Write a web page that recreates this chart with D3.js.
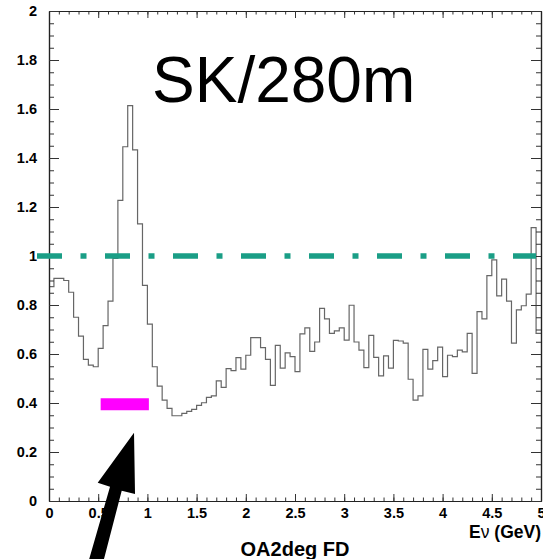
<!DOCTYPE html>
<html>
<head>
<meta charset="utf-8">
<script src="https://cdn.jsdelivr.net/npm/d3@7"></script>
<style>
  html, body { margin: 0; padding: 0; background: #fff; }
  svg { display: block; }
  .tick text { font-family: "Liberation Sans", Arial, Helvetica, sans-serif; font-weight: bold; font-size: 14.5px; fill: #000; }
</style>
</head>
<body>
<svg id="chart" width="543" height="559"></svg>
<script>
// Flux ratio per 50 MeV bin, 0 to 5 GeV
const binWidth = 0.05;
const ratio = [
  0.875, 0.909, 0.909, 0.900, 0.852, 0.750, 0.673, 0.578, 0.555, 0.548,
  0.623, 0.716, 0.816, 0.990, 1.227, 1.446, 1.614, 1.433, 1.131, 0.880,
  0.722, 0.548, 0.469, 0.412, 0.378, 0.348, 0.348, 0.358, 0.366, 0.374,
  0.390, 0.401, 0.423, 0.429, 0.490, 0.464, 0.540, 0.532, 0.585, 0.538,
  0.595, 0.667, 0.667, 0.626, 0.578, 0.472, 0.635, 0.542, 0.605, 0.589,
  0.528, 0.682, 0.707, 0.611, 0.649, 0.786, 0.743, 0.684, 0.694, 0.707,
  0.657, 0.799, 0.649, 0.616, 0.544, 0.676, 0.586, 0.511, 0.592, 0.542,
  0.656, 0.653, 0.644, 0.497, 0.412, 0.429, 0.619, 0.538, 0.573, 0.628,
  0.508, 0.595, 0.589, 0.616, 0.609, 0.684, 0.521, 0.773, 0.743, 0.920,
  0.984, 0.837, 0.906, 0.816, 0.644, 0.780, 0.797, 0.844, 1.116, 0.684
];

// Axis ticks
const xTicks = [0, 0.5, 1, 1.5, 2, 2.5, 3, 3.5, 4, 4.5, 5];
const xTickLabels = ["0", "0.5", "1", "1.5", "2", "2.5", "3", "3.5", "4", "4.5", "5"];
const yTicks = [0, 0.2, 0.4, 0.6, 0.8, 1, 1.2, 1.4, 1.6, 1.8, 2];
const yTickLabels = ["0", "0.2", "0.4", "0.6", "0.8", "1", "1.2", "1.4", "1.6", "1.8", "2"];

// Reference level and the highlighted energy band
const unityLevel = 1;
const bandRange = [0.525, 1.015];
const bandLevel = 0.395;
const arrowTip = [0.864, 0.279];

const svg = d3.select("#chart");
const plotLeft = 49, plotRight = 541, plotTop = 11, plotBottom = 501;
const x = d3.scaleLinear().domain([0, 5]).range([plotLeft, plotRight]);
const y = d3.scaleLinear().domain([0, 2]).range([plotBottom, plotTop]);

// Histogram outline (step)
const pts = ratio.map((v, i) => [i * binWidth, v]);
pts.push([ratio.length * binWidth, ratio[ratio.length - 1]]);
svg.append("path")
  .attr("d", d3.line().x(d => x(d[0])).y(d => y(d[1])).curve(d3.curveStepAfter)(pts))
  .attr("fill", "none")
  .attr("stroke", "#666")
  .attr("stroke-width", 1.2);

// Axes with inward ticks on all four sides
const xMinor = d3.range(0, 5.0001, 0.1).map(v => +v.toFixed(2));
const yMinor = d3.range(0, 2.0001, 0.05).map(v => +v.toFixed(2));

function frameAxis(g, axis) {
  g.call(axis);
  g.selectAll("path.domain").attr("stroke", "#222").attr("stroke-width", 1.2);
  g.selectAll(".tick line").attr("stroke", "#333").attr("stroke-width", 1);
}

// minor ticks
frameAxis(svg.append("g").attr("transform", `translate(0,${plotBottom})`),
  d3.axisBottom(x).tickValues(xMinor).tickSizeInner(-3.5).tickSizeOuter(0).tickFormat(""));
frameAxis(svg.append("g").attr("transform", `translate(0,${plotTop})`),
  d3.axisTop(x).tickValues(xMinor).tickSizeInner(-3.5).tickSizeOuter(0).tickFormat(""));
frameAxis(svg.append("g").attr("transform", `translate(${plotLeft},0)`),
  d3.axisLeft(y).tickValues(yMinor).tickSizeInner(-5).tickSizeOuter(0).tickFormat(""));
frameAxis(svg.append("g").attr("transform", `translate(${plotRight},0)`),
  d3.axisRight(y).tickValues(yMinor).tickSizeInner(-5).tickSizeOuter(0).tickFormat(""));

// major ticks with labels
frameAxis(svg.append("g").attr("transform", `translate(0,${plotBottom})`),
  d3.axisBottom(x).tickValues(xTicks).tickSizeInner(-7).tickSizeOuter(0).tickPadding(7)
    .tickFormat((d, i) => xTickLabels[i]));
frameAxis(svg.append("g").attr("transform", `translate(0,${plotTop})`),
  d3.axisTop(x).tickValues(xTicks).tickSizeInner(-7).tickSizeOuter(0).tickFormat(""));
frameAxis(svg.append("g").attr("transform", `translate(${plotLeft},0)`),
  d3.axisLeft(y).tickValues(yTicks).tickSizeInner(-10).tickSizeOuter(0).tickPadding(12)
    .tickFormat((d, i) => yTickLabels[i]));
frameAxis(svg.append("g").attr("transform", `translate(${plotRight},0)`),
  d3.axisRight(y).tickValues(yTicks).tickSizeInner(-10).tickSizeOuter(0).tickFormat(""));

// Unity line (dash-dot)
svg.append("line")
  .attr("x1", x(0) - 12).attr("x2", x(5) - 5)
  .attr("y1", y(unityLevel)).attr("y2", y(unityLevel))
  .attr("stroke", "#1a9e86")
  .attr("stroke-width", 5.5)
  .attr("stroke-dasharray", "25 18.5 6 18.5");

// Highlighted band
svg.append("line")
  .attr("x1", x(bandRange[0])).attr("x2", x(bandRange[1]))
  .attr("y1", y(bandLevel)).attr("y2", y(bandLevel))
  .attr("stroke", "#ff00ff")
  .attr("stroke-width", 12);

// Title
svg.append("text")
  .attr("x", 152).attr("y", 102)
  .attr("font-family", "Liberation Sans, Arial, Helvetica, sans-serif")
  .attr("font-size", 64)
  .attr("fill", "#000")
  .text("SK/280m");

// Axis title
const xt = svg.append("text")
  .attr("x", 541).attr("y", 538)
  .attr("text-anchor", "end")
  .attr("font-family", "Liberation Sans, Arial, Helvetica, sans-serif")
  .attr("font-weight", "bold")
  .attr("font-size", 17.5)
  .attr("fill", "#000");
xt.append("tspan").text("E");
xt.append("tspan").attr("font-weight", "normal").text("ν");
xt.append("tspan").text(" (GeV)");

// Caption
svg.append("text")
  .attr("x", 295).attr("y", 556)
  .attr("text-anchor", "middle")
  .attr("font-family", "Liberation Sans, Arial, Helvetica, sans-serif")
  .attr("font-weight", "bold")
  .attr("font-size", 20)
  .attr("fill", "#000")
  .text("OA2deg FD");

// Pointer arrow
const tx = x(arrowTip[0]), ty = y(arrowTip[1]);
const arrowShape = [
  [0, 0], [-36.3, 50], [-24, 54], [-47, 134], [-32, 134], [-12.3, 58], [1, 61.3]
];
svg.append("path")
  .attr("d", d3.line()(arrowShape.map(p => [tx + p[0], ty + p[1]])) + "Z")
  .attr("fill", "#000");
</script>
</body>
</html>
